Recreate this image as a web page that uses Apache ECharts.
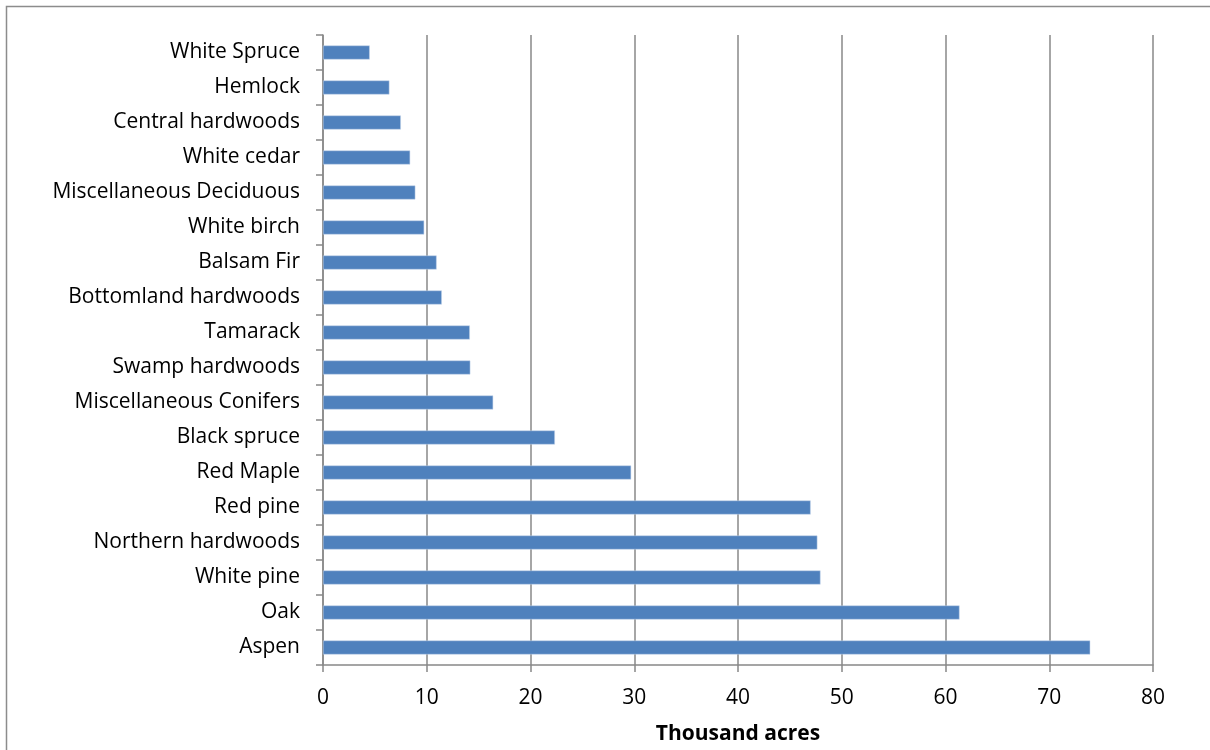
<!DOCTYPE html>
<html>
<head>
<meta charset="utf-8">
<script src="https://cdn.jsdelivr.net/npm/echarts@6/dist/echarts.min.js"></script>
<style>html,body{margin:0;padding:0;background:#fff;}#c{width:1210px;height:750px;}</style>
</head>
<body>
<div id="c"></div>
<script>
const categories = ["White Spruce","Hemlock","Central hardwoods","White cedar","Miscellaneous Deciduous","White birch","Balsam Fir","Bottomland hardwoods","Tamarack","Swamp hardwoods","Miscellaneous Conifers","Black spruce","Red Maple","Red pine","Northern hardwoods","White pine","Oak","Aspen"];
const values = [4.5, 6.4, 7.5, 8.4, 8.9, 9.75, 10.95, 11.45, 14.15, 14.2, 16.4, 22.35, 29.7, 47.0, 47.65, 47.95, 61.35, 73.95];
const xTicks = {min: 0, max: 80, interval: 10};
const axisName = "Thousand acres";

const chart = echarts.init(document.getElementById('c'), null, {renderer: 'canvas'});
const font = 'Open Sans';
chart.setOption({
  animation: false,
  backgroundColor: '#fff',
  graphic: [{
    type: 'rect', shape: {x: 6.5, y: 6.5, width: 1400, height: 1000},
    style: {fill: 'none', stroke: '#8c8c8c', lineWidth: 1.5}, silent: true, z: -10
  }],
  grid: {left: 323, right: 57, top: 35, bottom: 85, containLabel: false, outerBoundsMode: 'none'},
  xAxis: {
    type: 'value', min: xTicks.min, max: xTicks.max, interval: xTicks.interval,
    name: axisName, nameLocation: 'middle', nameGap: 59,
    nameTextStyle: {fontFamily: font, fontSize: 21, fontWeight: 'bold', color: '#000'},
    axisLine: {show: true, lineStyle: {color: '#888', width: 1.5}},
    axisTick: {show: true, length: 7, lineStyle: {color: '#888', width: 1.5}},
    axisLabel: {fontFamily: font, fontSize: 21, color: '#000', margin: 23},
    splitLine: {show: true, lineStyle: {color: '#888', width: 1.5}}
  },
  yAxis: {
    type: 'category', data: categories, inverse: true,
    axisLine: {show: true, lineStyle: {color: '#888', width: 1.5}},
    axisTick: {show: true, length: 7, lineStyle: {color: '#888', width: 1.5}},
    axisLabel: {fontFamily: font, fontSize: 21, color: '#000', margin: 23}
  },
  series: [{
    type: 'bar', data: values, barWidth: 14,
    itemStyle: {color: '#4f81bd', borderColor: '#c5d5ea', borderWidth: 0.5}
  }]
});
</script>
</body>
</html>
